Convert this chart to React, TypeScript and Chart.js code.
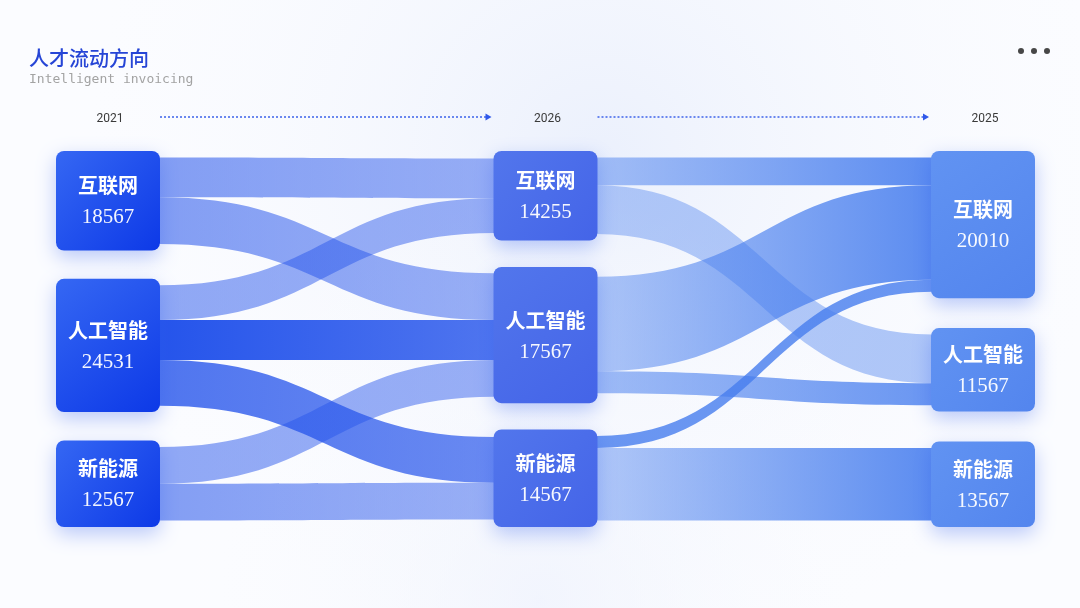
import { useEffect, useRef } from 'react';
import { Chart, registerables } from 'chart.js';

Chart.register(...registerables);

// ---------------- data ----------------
const TITLE = '人才流动方向';
const SUBTITLE = 'Intelligent invoicing';
const stages = ['2021', '2026', '2025'];
const categories = ['互联网', '人工智能', '新能源'];
const nodeValues2021 = [18567, 24531, 12567];
const nodeValues2026 = [14255, 17567, 14567];
const nodeValues2025 = [20010, 11567, 13567];

// flows 2021 -> 2026
const flowSources1 = [0, 0, 1, 1, 1, 2, 2];
const flowTargets1 = [0, 1, 0, 1, 2, 1, 2];
const flowValues1 = [8000, 9400, 7000, 8000, 9200, 7400, 7400];

// flows 2026 -> 2025
const flowSources2 = [0, 0, 1, 1, 2, 2];
const flowTargets2 = [0, 1, 0, 1, 0, 2];
const flowValues2 = [5600, 9800, 19000, 4400, 2400, 14600];

// ---------------- layout constants (value units / px) ----------------
const NODE_PAD = 2600;
const NODE_GAP = 5300;
const NODE_W = 104;

// ---------------- styles ----------------
const linkAlpha1 = [
  [0.56, 0.45],
  [0.56, 0.45],
  [0.5, 0.45],
  [1.0, 0.8],
  [0.8, 0.68],
  [0.5, 0.45],
  [0.56, 0.45],
];
const linkAlpha2 = [
  [0.45, 0.88],
  [0.38, 0.42],
  [0.42, 0.88],
  [0.5, 0.8],
  [0.8, 0.8],
  [0.4, 0.88],
];
const linkRGB1 = '37,84,235';
const linkRGB2 = '70,125,238';
const nodeColors = [
  ['#3567f3', '#0d39e7'],
  ['#5276ec', '#4464e8'],
  ['#6193f2', '#5385ee'],
];

const columns = [nodeValues2021, nodeValues2026, nodeValues2025];
const flowSets = [
  { s: flowSources1, t: flowTargets1, v: flowValues1, a: linkAlpha1, rgb: linkRGB1 },
  { s: flowSources2, t: flowTargets2, v: flowValues2, a: linkAlpha2, rgb: linkRGB2 },
];

type NodeL = { y0: number; h: number; inS: number; outS: number };

function computeLayout() {
  const sizes: NodeL[][] = columns.map((col, c) =>
    col.map((_, i) => {
      let inS = 0;
      let outS = 0;
      if (c > 0) {
        const f = flowSets[c - 1];
        f.t.forEach((t, k) => {
          if (t === i) inS += f.v[k];
        });
      }
      if (c < columns.length - 1) {
        const f = flowSets[c];
        f.s.forEach((s, k) => {
          if (s === i) outS += f.v[k];
        });
      }
      return { y0: 0, h: Math.max(inS, outS) + NODE_PAD, inS, outS };
    })
  );
  const colSums = sizes.map((col) => col.reduce((a, n) => a + n.h, 0));
  const yMax = Math.max(...colSums) + 2 * NODE_GAP;
  sizes.forEach((col, c) => {
    const gap = (yMax - colSums[c]) / (col.length - 1);
    let y = 0;
    col.forEach((n) => {
      n.y0 = y;
      y += n.h + gap;
    });
  });
  const links = flowSets.map((f, c) => {
    const srcOff = sizes[c].map((n) => n.y0 + (n.h - n.outS) / 2);
    const tgtOff = sizes[c + 1].map((n) => n.y0 + (n.h - n.inS) / 2);
    const order = f.v.map((_, k) => k);
    const srcPos: number[] = [];
    const tgtPos: number[] = [];
    [...order]
      .sort((a, b) => f.s[a] - f.s[b] || f.t[a] - f.t[b])
      .forEach((k) => {
        srcPos[k] = srcOff[f.s[k]];
        srcOff[f.s[k]] += f.v[k];
      });
    [...order]
      .sort((a, b) => f.t[a] - f.t[b] || f.s[a] - f.s[b])
      .forEach((k) => {
        tgtPos[k] = tgtOff[f.t[k]];
        tgtOff[f.t[k]] += f.v[k];
      });
    return order.map((k) => ({ sy: srcPos[k], ty: tgtPos[k], v: f.v[k], k }));
  });
  return { sizes, links, yMax };
}

const LAYOUT = computeLayout();

const sankeyPlugin = {
  id: 'sankeyDraw',
  beforeDraw(chart: any) {
    const { ctx, width, height } = chart;
    ctx.save();
    ctx.fillStyle = '#fbfcff';
    ctx.fillRect(0, 0, width, height);
    const g = ctx.createRadialGradient(600, 160, 0, 600, 160, 620);
    g.addColorStop(0, 'rgba(232,238,252,0.85)');
    g.addColorStop(1, 'rgba(255,255,255,0)');
    ctx.fillStyle = g;
    ctx.fillRect(0, 0, width, height);
    const g2 = ctx.createRadialGradient(540, 600, 0, 540, 600, 420);
    g2.addColorStop(0, 'rgba(238,242,253,0.7)');
    g2.addColorStop(1, 'rgba(255,255,255,0)');
    ctx.fillStyle = g2;
    ctx.fillRect(0, 0, width, height);

    ctx.textBaseline = 'middle';
    ctx.textAlign = 'left';
    ctx.fillStyle = '#2645d6';
    ctx.font = '500 20px "Noto Sans CJK SC", sans-serif';
    ctx.fillText(TITLE, 29, 58);
    ctx.fillStyle = '#a3a3a3';
    ctx.font = '13px "DejaVu Sans Mono", monospace';
    ctx.fillText(SUBTITLE, 29, 80);

    ctx.fillStyle = '#474747';
    [1021, 1034, 1047].forEach((x) => {
      ctx.beginPath();
      ctx.arc(x, 51, 3, 0, Math.PI * 2);
      ctx.fill();
    });
    ctx.restore();
  },
  afterDatasetsDraw(chart: any) {
    const { ctx } = chart;
    const xs = chart.scales.x;
    const ys = chart.scales.y;
    const py = (v: number) => ys.getPixelForValue(v);
    const cx = (c: number) => xs.getPixelForValue(c);
    const { sizes, links } = LAYOUT;

    ctx.save();
    ctx.textAlign = 'center';
    ctx.textBaseline = 'middle';
    ctx.font = '12px "Liberation Sans Narrow", "Roboto", sans-serif';
    stages.forEach((s, c) => {
      ctx.fillStyle = '#3a3a3a';
      ctx.fillText(s, cx(c) + 2, 119);
      if (c < stages.length - 1) {
        const x0 = cx(c) + NODE_W / 2;
        const x1 = cx(c + 1) - NODE_W / 2 - 2;
        ctx.strokeStyle = '#3d63ea';
        ctx.lineWidth = 1.5;
        ctx.setLineDash([2, 2]);
        ctx.beginPath();
        ctx.moveTo(x0, 117);
        ctx.lineTo(x1 - 5, 117);
        ctx.stroke();
        ctx.setLineDash([]);
        ctx.fillStyle = '#2f58ea';
        ctx.beginPath();
        ctx.moveTo(x1, 117);
        ctx.lineTo(x1 - 6, 113.5);
        ctx.lineTo(x1 - 6, 120.5);
        ctx.closePath();
        ctx.fill();
      }
    });

    links.forEach((set, c) => {
      const f = flowSets[c];
      const x0 = cx(c) + NODE_W / 2 - 1;
      const x1 = cx(c + 1) - NODE_W / 2 + 1;
      const xm = (x0 + x1) / 2;
      set.forEach((l) => {
        const s0 = py(l.sy);
        const s1 = py(l.sy + l.v);
        const t0 = py(l.ty);
        const t1 = py(l.ty + l.v);
        const grad = ctx.createLinearGradient(x0, 0, x1, 0);
        const [a0, a1] = f.a[l.k];
        grad.addColorStop(0, `rgba(${f.rgb},${a0})`);
        grad.addColorStop(1, `rgba(${f.rgb},${a1})`);
        ctx.fillStyle = grad;
        ctx.beginPath();
        ctx.moveTo(x0, s0);
        ctx.bezierCurveTo(xm, s0, xm, t0, x1, t0);
        ctx.lineTo(x1, t1);
        ctx.bezierCurveTo(xm, t1, xm, s1, x0, s1);
        ctx.closePath();
        ctx.fill();
      });
    });

    sizes.forEach((col, c) => {
      const x = cx(c) - NODE_W / 2;
      col.forEach((n, i) => {
        const y0 = py(n.y0);
        const y1 = py(n.y0 + n.h);
        const h = y1 - y0;
        ctx.save();
        ctx.shadowColor = 'rgba(45,90,235,0.32)';
        ctx.shadowBlur = 20;
        ctx.shadowOffsetY = 7;
        const g = ctx.createLinearGradient(x, y0, x + NODE_W, y1);
        g.addColorStop(0, nodeColors[c][0]);
        g.addColorStop(1, nodeColors[c][1]);
        ctx.fillStyle = g;
        ctx.beginPath();
        ctx.roundRect(x, y0, NODE_W, h, 8);
        ctx.fill();
        ctx.restore();

        const mid = (y0 + y1) / 2;
        ctx.fillStyle = '#ffffff';
        ctx.textAlign = 'center';
        ctx.textBaseline = 'middle';
        ctx.font = 'bold 20px "Noto Sans CJK SC", sans-serif';
        ctx.fillText(categories[i], cx(c), mid - 15);
        ctx.fillStyle = 'rgba(255,255,255,0.95)';
        ctx.font = '21px "Liberation Serif", serif';
        ctx.fillText(String(columns[c][i]), cx(c), mid + 17);
      });
    });
    ctx.restore();
  },
};

export default function App() {
  const ref = useRef<HTMLCanvasElement | null>(null);
  useEffect(() => {
    document.body.style.margin = '0';
    if (!ref.current) return;
    const chart = new Chart(ref.current, {
      type: 'scatter',
      data: { datasets: [] },
      options: {
        responsive: false,
        animation: false,
        devicePixelRatio: 1,
        layout: { padding: { left: 108, right: 97, top: 151, bottom: 81 } },
        plugins: { legend: { display: false }, tooltip: { enabled: false }, title: { display: false } },
        scales: {
          x: { type: 'linear', min: 0, max: stages.length - 1, display: false },
          y: { type: 'linear', min: 0, max: LAYOUT.yMax, reverse: true, display: false },
        },
      },
      plugins: [sankeyPlugin],
    } as any);
    return () => chart.destroy();
  }, []);
  return (
    <div style={{ position: 'absolute', left: 0, top: 0, width: 1080, height: 608 }}>
      <canvas ref={ref} width={1080} height={608} style={{ display: 'block' }} />
    </div>
  );
}
